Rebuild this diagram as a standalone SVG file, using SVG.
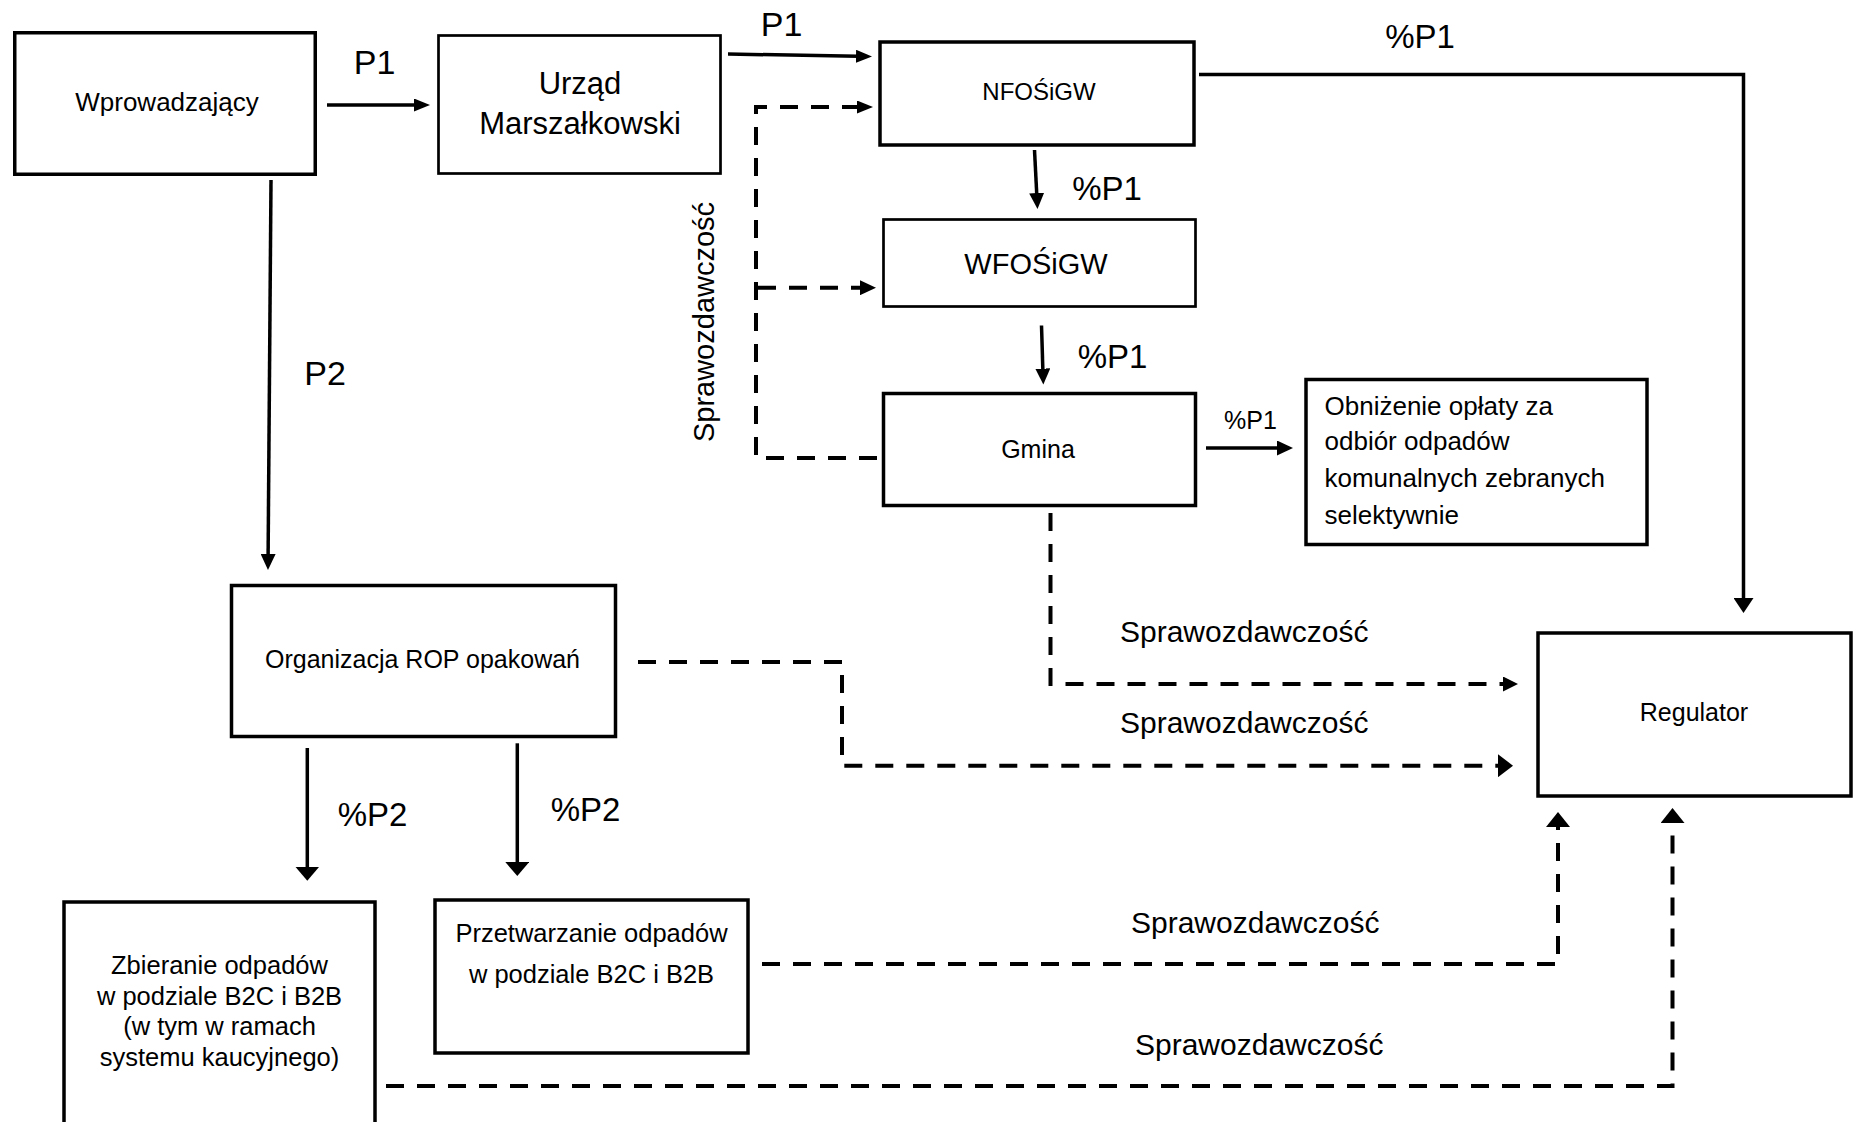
<svg xmlns="http://www.w3.org/2000/svg" width="1856" height="1122" viewBox="0 0 1856 1122">
<style>
  .box { fill: #ffffff; stroke: #000000; stroke-width: 3.5; }
  .thin { stroke-width: 2.7; }
  .t { font-family: "Liberation Sans", Arial, sans-serif; fill: #000000; }
  .c { text-anchor: middle; }
  .solid { fill: none; stroke: #000000; stroke-width: 3.5; }
  .dash { fill: none; stroke: #000000; stroke-width: 4; stroke-dasharray: 18 13; }
</style>
<defs>
  <marker id="mA" markerUnits="userSpaceOnUse" orient="auto" markerWidth="16" markerHeight="13" refX="2" refY="6.5" viewBox="0 0 16 13"><path d="M0,0 L16,6.5 L0,13 Z" fill="#000"/></marker>
  <marker id="mG" markerUnits="userSpaceOnUse" orient="auto" markerWidth="16" markerHeight="15" refX="2" refY="7.5" viewBox="0 0 16 15"><path d="M0,0 L16,7.5 L0,15 Z" fill="#000"/></marker>
  <marker id="mB" markerUnits="userSpaceOnUse" orient="auto" markerWidth="15" markerHeight="20" refX="2" refY="10" viewBox="0 0 15 20"><path d="M0,0 L15,10 L0,20 Z" fill="#000"/></marker>
  <marker id="mC" markerUnits="userSpaceOnUse" orient="auto" markerWidth="14" markerHeight="24" refX="2" refY="12" viewBox="0 0 14 24"><path d="M0,0 L14,12 L0,24 Z" fill="#000"/></marker>
  <marker id="mD" markerUnits="userSpaceOnUse" orient="auto" markerWidth="15" markerHeight="15" refX="2" refY="7.5" viewBox="0 0 15 15"><path d="M0,0 L15,7.5 L0,15 Z" fill="#000"/></marker>
  <marker id="mE" markerUnits="userSpaceOnUse" orient="auto" markerWidth="15" markerHeight="23" refX="2" refY="11.5" viewBox="0 0 15 23"><path d="M0,0 L15,11.5 L0,23 Z" fill="#000"/></marker>
  <marker id="mF" markerUnits="userSpaceOnUse" orient="auto" markerWidth="15" markerHeight="24" refX="2" refY="12" viewBox="0 0 15 24"><path d="M0,0 L15,12 L0,24 Z" fill="#000"/></marker>
</defs>
<rect width="1856" height="1122" fill="#ffffff"/>

<g id="connectors">
  <line class="solid" x1="327" y1="105" x2="416" y2="105" marker-end="url(#mA)"/>
  <line class="solid" x1="728" y1="54" x2="858" y2="56.3" marker-end="url(#mA)"/>
  <polyline class="solid" points="1199,74.5 1743.5,74.5 1743.5,600" marker-end="url(#mB)"/>
  <line class="solid" stroke-width="3" x1="1034.5" y1="150" x2="1036.8" y2="195" marker-end="url(#mG)"/>
  <line class="solid" stroke-width="3" x1="1041.5" y1="325.5" x2="1042.9" y2="370.6" marker-end="url(#mG)"/>
  <line class="solid" x1="1206" y1="448" x2="1279" y2="448" marker-end="url(#mG)"/>
  <line class="solid" stroke-width="3" x1="271" y1="180" x2="268.1" y2="556" marker-end="url(#mG)"/>
  <line class="solid" x1="307.3" y1="748" x2="307.3" y2="868.7" marker-end="url(#mC)"/>
  <line class="solid" x1="517.3" y1="743.3" x2="517.3" y2="864" marker-end="url(#mC)"/>

  <path class="dash" d="M877,458 H756 V107 H859" marker-end="url(#mA)"/>
  <path class="dash" d="M758,287.7 H862" marker-end="url(#mG)"/>
  <path class="dash" d="M1050.5,513 V684 H1505" marker-end="url(#mD)"/>
  <path class="dash" d="M638,662 H842 V765.7 H1500" marker-end="url(#mE)"/>
  <path class="dash" d="M762,964 H1558 V825" marker-end="url(#mF)"/>
  <path class="dash" d="M386,1086 H1672.5 V821" marker-end="url(#mF)"/>

  <text class="t c" x="374.5" y="74" font-size="34">P1</text>
  <text class="t c" x="781.5" y="36" font-size="34">P1</text>
  <text class="t c" x="325" y="385" font-size="34">P2</text>
  <text class="t c" x="1420" y="47.5" font-size="33">%P1</text>
  <text class="t c" x="1107" y="200" font-size="33">%P1</text>
  <text class="t c" x="1112.5" y="368" font-size="33">%P1</text>
  <text class="t c" x="1250.5" y="429" font-size="25">%P1</text>
  <text class="t c" x="372.5" y="825.5" font-size="33">%P2</text>
  <text class="t c" x="585.5" y="821" font-size="33">%P2</text>
  <text class="t c" transform="translate(714,322) rotate(-90)" font-size="29">Sprawozdawczość</text>
  <text class="t" x="1120" y="642" font-size="30">Sprawozdawczość</text>
  <text class="t" x="1120" y="733" font-size="30">Sprawozdawczość</text>
  <text class="t" x="1131" y="933" font-size="30">Sprawozdawczość</text>
  <text class="t" x="1135" y="1055" font-size="30">Sprawozdawczość</text>
</g>

<g id="wprowadzajacy">
  <rect class="box" x="14.75" y="32.75" width="300.5" height="141.5"/>
  <text class="t c" x="167" y="111" font-size="26">Wprowadzający</text>
</g>
<g id="urzad">
  <rect class="box thin" x="438.5" y="35.5" width="282" height="138"/>
  <text class="t c" x="580" y="94" font-size="31">Urząd</text>
  <text class="t c" x="580" y="134" font-size="31">Marszałkowski</text>
</g>
<g id="nfosigw">
  <rect class="box" stroke-width="4" x="880" y="42" width="314" height="103"/>
  <text class="t c" x="1039" y="100" font-size="24">NFOŚiGW</text>
</g>
<g id="wfosigw">
  <rect class="box thin" x="883.5" y="219.5" width="312" height="87"/>
  <text class="t c" x="1036" y="274" font-size="29">WFOŚiGW</text>
</g>
<g id="gmina">
  <rect class="box" x="883.5" y="393.5" width="312" height="112"/>
  <text class="t c" x="1038" y="458" font-size="25">Gmina</text>
</g>
<g id="obnizenie">
  <rect class="box" x="1306" y="379.5" width="341" height="165"/>
  <text class="t" x="1324.5" y="415" font-size="26">Obniżenie opłaty za</text>
  <text class="t" x="1324.5" y="450" font-size="26">odbiór odpadów</text>
  <text class="t" x="1324.5" y="486.5" font-size="26">komunalnych zebranych</text>
  <text class="t" x="1324.5" y="524" font-size="26">selektywnie</text>
</g>
<g id="regulator">
  <rect class="box" x="1538" y="633" width="313" height="163"/>
  <text class="t c" x="1694" y="721" font-size="25">Regulator</text>
</g>
<g id="organizacja">
  <rect class="box" x="231.5" y="585.5" width="384" height="151"/>
  <text class="t c" x="422.5" y="668" font-size="25">Organizacja ROP opakowań</text>
</g>
<g id="zbieranie">
  <rect class="box" x="64" y="902" width="311" height="240"/>
  <text class="t c" x="219.5" y="974" font-size="25.5">Zbieranie odpadów</text>
  <text class="t c" x="219.5" y="1004.5" font-size="25.5">w podziale B2C i B2B</text>
  <text class="t c" x="219.5" y="1035" font-size="25.5">(w tym w ramach</text>
  <text class="t c" x="219.5" y="1065.5" font-size="25.5">systemu kaucyjnego)</text>
</g>
<g id="przetwarzanie">
  <rect class="box" x="435" y="900" width="313" height="153"/>
  <text class="t c" x="591.5" y="942" font-size="25.5">Przetwarzanie odpadów</text>
  <text class="t c" x="591.5" y="983" font-size="25.5">w podziale B2C i B2B</text>
</g>
</svg>
